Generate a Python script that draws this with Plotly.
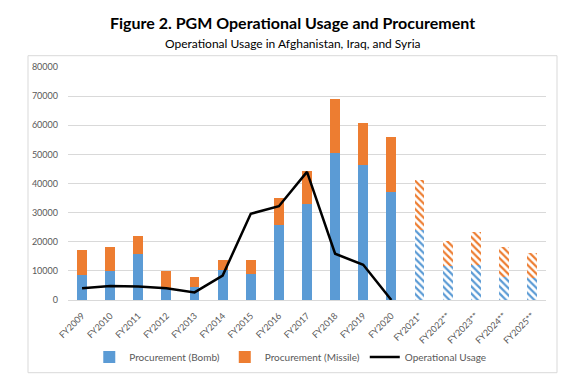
import plotly.graph_objects as go

categories = ["FY2009", "FY2010", "FY2011", "FY2012", "FY2013", "FY2014", "FY2015",
              "FY2016", "FY2017", "FY2018", "FY2019", "FY2020", "FY2021*", "FY2022**",
              "FY2023**", "FY2024**", "FY2025**"]
bomb = [8600, 10100, 15700, 4000, 4300, 10200, 9000, 25900, 33000, 50400, 46500, 37000,
        24200, 11800, 12100, 7800, 7600]
missile = [8700, 8000, 6200, 6000, 3500, 3700, 4600, 9000, 11200, 18700, 14200, 19100,
           17100, 8600, 11100, 10300, 8700]
usage = [4000, 4800, 4600, 4000, 2600, 8400, 29600, 32200, 44000, 15900, 12100, 0,
         None, None, None, None, None]
projected = [False] * 12 + [True] * 5

BLUE = "#5B9BD5"
ORANGE = "#ED7D31"
FONT = "Lato"
GREY = "#595959"

shapes_pat = ["\\" if p else "" for p in projected]

fig = go.Figure()
fig.add_trace(go.Bar(
    x=categories, y=bomb, name="Procurement (Bomb)",
    marker=dict(color=BLUE, line=dict(width=0),
                pattern=dict(shape=shapes_pat, fgcolor=BLUE, bgcolor="white",
                             size=5, solidity=0.45, fillmode="replace")),
))
fig.add_trace(go.Bar(
    x=categories, y=missile, name="Procurement (Missile)",
    marker=dict(color=ORANGE, line=dict(width=0),
                pattern=dict(shape=shapes_pat, fgcolor=ORANGE, bgcolor="white",
                             size=5, solidity=0.45, fillmode="replace")),
))
fig.add_trace(go.Scatter(
    x=categories, y=usage, name="Operational Usage", mode="lines",
    line=dict(color="black", width=2.5), connectgaps=False,
))

# plot area in screen px: x 68-546, y 67.3-300.3 (page has 8px body margin)
fig.update_layout(
    width=586, height=376,
    barmode="stack", bargap=0.65,
    paper_bgcolor="white", plot_bgcolor="white",
    margin=dict(l=60, r=48, t=59.3, b=83.7, autoexpand=False),
    font=dict(family=FONT, color=GREY, size=9),
    showlegend=True,
    legend=dict(orientation="h", x=0.465, xanchor="center", y=-0.245, yanchor="middle",
                font=dict(size=10, color=GREY, family=FONT), traceorder="normal",
                itemwidth=30, bgcolor="rgba(0,0,0,0)"),
    annotations=[
        dict(text="<b>Figure 2. PGM Operational Usage and Procurement</b>",
             xref="paper", yref="paper", x=0.47, y=(300.3 - 23) / 233,
             xanchor="center", yanchor="middle", showarrow=False,
             font=dict(size=16, color="black", family=FONT)),
        dict(text="Operational Usage in Afghanistan, Iraq, and Syria",
             xref="paper", yref="paper", x=0.47, y=(300.3 - 44) / 233,
             xanchor="center", yanchor="middle", showarrow=False,
             font=dict(size=12, color="black", family=FONT)),
    ],
    shapes=[dict(type="rect", xref="paper", yref="paper",
                 x0=(28 - 68) / 478, x1=(557 - 68) / 478,
                 y0=(300.3 - 373) / 233, y1=(300.3 - 56) / 233,
                 line=dict(color="#D9D9D9", width=1), layer="below")],
)
fig.update_yaxes(range=[0, 80000], dtick=10000, tickformat="d", showgrid=True,
                 gridcolor="#D9D9D9", gridwidth=1, zeroline=False, showline=False,
                 ticks="", ticklabelstandoff=9, automargin=False,
                 tickfont=dict(size=9, color=GREY))
fig.update_xaxes(tickangle=-45, showline=True, linecolor="#D9D9D9", ticks="",
                 ticklabelstandoff=6, automargin=False,
                 tickfont=dict(size=9, color=GREY))

fig.write_html("out.html")
